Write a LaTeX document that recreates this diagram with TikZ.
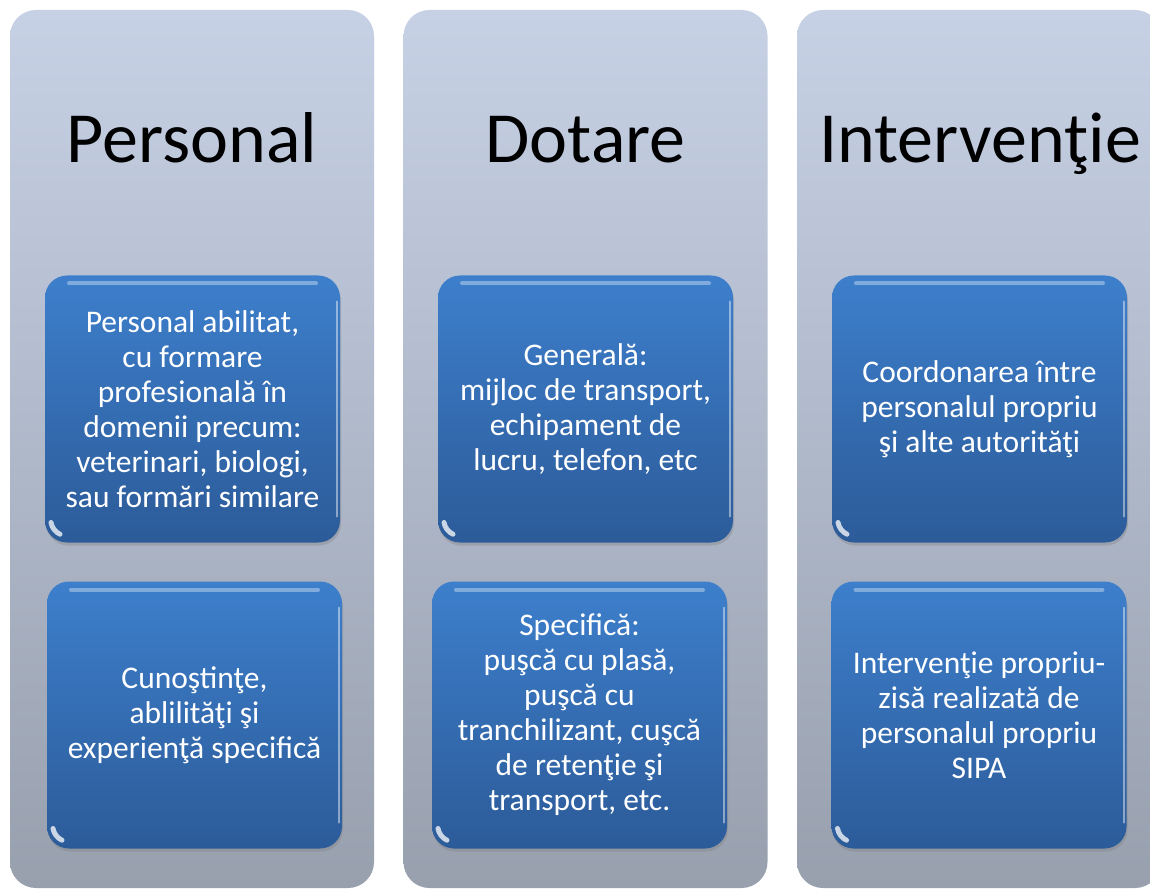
\documentclass[tikz,border=0pt]{standalone}
\usepackage{fontspec}
\setmainfont{Carlito}
\usetikzlibrary{shadows}

\definecolor{colTop}{HTML}{C7D1E5}
\definecolor{colMid}{HTML}{BBC5D7}
\definecolor{colBot}{HTML}{98A0AE}
\definecolor{boxTop}{HTML}{3D7FCC}
\definecolor{boxBot}{HTML}{2C5B99}

\begin{document}
\begin{tikzpicture}[x=1pt,y=-1pt]
  \tikzset{
    column/.style={rounded corners=26pt, draw=none, inner sep=0pt,
      top color=colTop, middle color=colMid, bottom color=colBot,
      minimum width=364pt, minimum height=878pt},
    title/.style={anchor=base, font=\fontsize{72}{80}\selectfont},
    itembox/.style={rounded corners=22pt, draw=none, inner sep=6pt,
      top color=boxTop, bottom color=boxBot, text=white, align=center,
      minimum width=295pt, minimum height=267pt,
      font=\fontsize{31.5}{35}\selectfont,
      drop shadow={shadow xshift=1pt, shadow yshift=-3pt, opacity=.35},
      path picture={ % glossy edges and corner glint
        \draw[white, opacity=.35, line width=4pt, line cap=round]
          ([xshift=24pt,yshift=-8pt]path picture bounding box.north west)
          -- ([xshift=-24pt,yshift=-8pt]path picture bounding box.north east);
        \draw[white, opacity=.45, line width=2pt, line cap=round]
          ([xshift=-3pt,yshift=-26pt]path picture bounding box.north east)
          -- ([xshift=-3pt,yshift=26pt]path picture bounding box.south east);
        \draw[white, opacity=.75, line width=5pt, line cap=round]
          ([xshift=6pt,yshift=20pt]path picture bounding box.south west)
          arc (190:245:16pt);}
    }
  }
  \useasboundingbox[fill=white] (0,0) rectangle (1150,890);

  % columns
  \node[column] (col-pers) at (192,449) {};
  \node[column] (col-dot) at (585.5,449) {};
  \node[column] (col-int) at (979,449) {};

  % headings
  \node[title] (t-pers) at (192,163) {Personal};
  \node[title] (t-dot) at (585.5,163) {Dotare};
  \node[title] (t-int) at (980,163) {Intervenţie};

  % Personal
  \node[itembox] (pers-a) at (192.5,409) {Personal abilitat,\\cu formare\\profesională în\\domenii precum:\\veterinari, biologi,\\sau formări similare};
  \node[itembox] (pers-b) at (194.5,715) {Cunoştinţe,\\ablilităţi şi\\experienţă specifică};

  % Dotare
  \node[itembox] (dot-a) at (585.5,409) {Generală:\\mijloc de transport,\\echipament de\\lucru, telefon, etc};
  \node[itembox] (dot-b) at (579.5,715) {Specifică:\\puşcă cu plasă,\\puşcă cu\\tranchilizant, cuşcă\\de retenţie şi\\transport, etc.};

  % Interventie
  \node[itembox] (int-a) at (979.5,409) {Coordonarea între\\personalul propriu\\şi alte autorităţi};
  \node[itembox] (int-b) at (979,715) {Intervenţie propriu-\\zisă realizată de\\personalul propriu\\SIPA};
\end{tikzpicture}
\end{document}
